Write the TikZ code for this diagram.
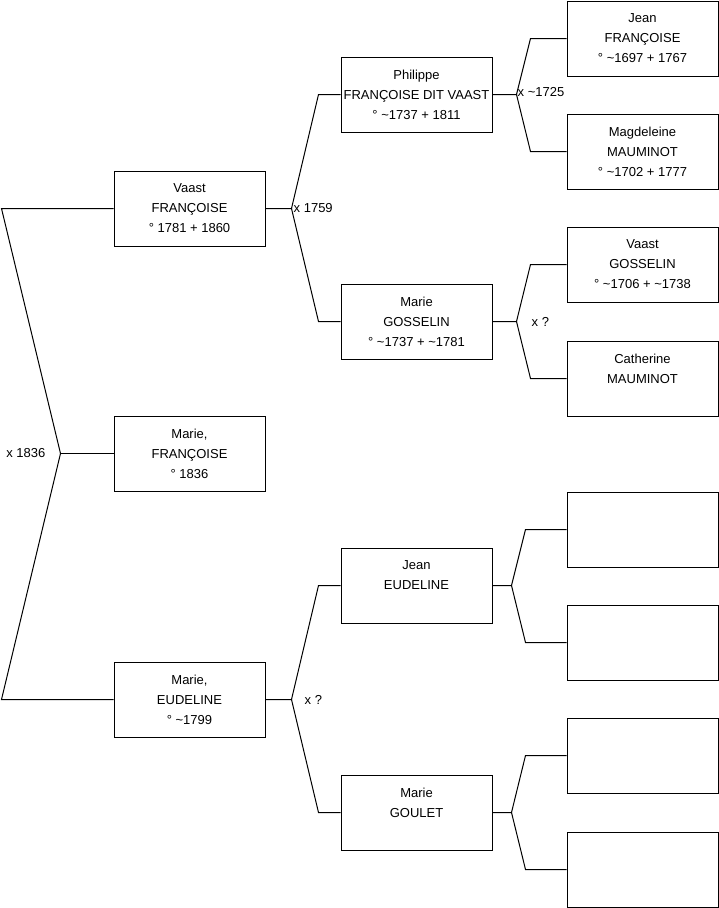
\documentclass[tikz,border=0pt]{standalone}
\usepackage{fontspec}
\setmainfont{Liberation Sans}
\usepackage{tikz}
\usetikzlibrary{calc}
\newcommand{\tld}{\textasciitilde}

\begin{document}
\begin{tikzpicture}[
    x=1pt, y=-1pt,
    person/.style={rectangle, draw=black, line width=1pt, minimum width=151pt, minimum height=75pt, inner sep=0pt, align=center, font=\fontsize{13pt}{20pt}\selectfont},
    union/.style={inner sep=0pt, font=\fontsize{13pt}{15pt}\selectfont},
    link/.style={draw=black, line width=1pt}
]
  \useasboundingbox (0,0) rectangle (719,908);

  \node[person] (vaast) at (189.5,208.5) {Vaast\\FRANÇOISE\\° 1781 + 1860};
  \node[person] (mariefr) at (189.5,453.5) {Marie,\\FRANÇOISE\\° 1836};
  \node[person] (marieeu) at (189.5,699.5) {Marie,\\EUDELINE\\° \tld1799};

  \node[person] (philippe) at (416.5,94.5) {Philippe\\FRANÇOISE DIT VAAST\\° \tld1737 + 1811};
  \node[person] (mariego) at (416.5,321.5) {Marie\\GOSSELIN\\° \tld1737 + \tld1781};
  \node[person] (jeaneu) at (416.5,585.5) {Jean\\EUDELINE\\\vphantom{° 1}};
  \node[person] (mariegou) at (416.5,812.5) {Marie\\GOULET\\\vphantom{° 1}};

  \node[person] (jeanfr) at (642.5,38.5) {Jean\\FRANÇOISE\\° \tld1697 + 1767};
  \node[person] (magdeleine) at (642.5,151.5) {Magdeleine\\MAUMINOT\\° \tld1702 + 1777};
  \node[person] (vaastgo) at (642.5,264.5) {Vaast\\GOSSELIN\\° \tld1706 + \tld1738};
  \node[person] (catherine) at (642.5,378.5) {Catherine\\MAUMINOT\\\vphantom{° 1}};
  \node[person] (blank1) at (642.5,529.5) {};
  \node[person] (blank2) at (642.5,642.5) {};
  \node[person] (blank3) at (642.5,755.5) {};
  \node[person] (blank4) at (642.5,869.5) {};

  \coordinate (a0) at ($(mariefr.west)+(-53,0)$);
  \coordinate (l0) at ($(a0)+(-59,0)$);
  \draw[link] (vaast.west) -- (vaast.west -| l0) -- (a0) -- (marieeu.west -| l0) -- (marieeu.west);
  \draw[link] (a0) -- (mariefr.west);
  \node[union, anchor=east] (m0) at ($(a0)+(-15,0)$) {x 1836};

  \coordinate (a1) at ($(vaast.east)+(26,0)$);
  \coordinate (l1) at ($(a1)+(27,0)$);
  \draw[link] (vaast.east) -- (a1) -- (philippe.west -| l1) -- (philippe.west);
  \draw[link] (a1) -- (mariego.west -| l1) -- (mariego.west);
  \node[union, anchor=west] (m1) at ($(a1)+(2,0)$) {x 1759};

  \coordinate (a2) at ($(marieeu.east)+(26,0)$);
  \coordinate (l2) at ($(a2)+(27,0)$);
  \draw[link] (marieeu.east) -- (a2) -- (jeaneu.west -| l2) -- (jeaneu.west);
  \draw[link] (a2) -- (mariegou.west -| l2) -- (mariegou.west);
  \node[union, anchor=west] (m2) at ($(a2)+(13,0)$) {x ?};

  \coordinate (a3) at ($(philippe.east)+(24,0)$);
  \coordinate (l3) at ($(a3)+(14,0)$);
  \draw[link] (philippe.east) -- (a3) -- (jeanfr.west -| l3) -- (jeanfr.west);
  \draw[link] (a3) -- (magdeleine.west -| l3) -- (magdeleine.west);
  \node[union, anchor=west] (m3) at ($(a3)+(1,-2)$) {x \tld1725};

  \coordinate (a4) at ($(mariego.east)+(24,0)$);
  \coordinate (l4) at ($(a4)+(14,0)$);
  \draw[link] (mariego.east) -- (a4) -- (vaastgo.west -| l4) -- (vaastgo.west);
  \draw[link] (a4) -- (catherine.west -| l4) -- (catherine.west);
  \node[union, anchor=west] (m4) at ($(a4)+(15,0)$) {x ?};

  \coordinate (a5) at ($(jeaneu.east)+(19,0)$);
  \coordinate (l5) at ($(a5)+(14,0)$);
  \draw[link] (jeaneu.east) -- (a5) -- (blank1.west -| l5) -- (blank1.west);
  \draw[link] (a5) -- (blank2.west -| l5) -- (blank2.west);

  \coordinate (a6) at ($(mariegou.east)+(19,0)$);
  \coordinate (l6) at ($(a6)+(14,0)$);
  \draw[link] (mariegou.east) -- (a6) -- (blank3.west -| l6) -- (blank3.west);
  \draw[link] (a6) -- (blank4.west -| l6) -- (blank4.west);
\end{tikzpicture}
\end{document}
